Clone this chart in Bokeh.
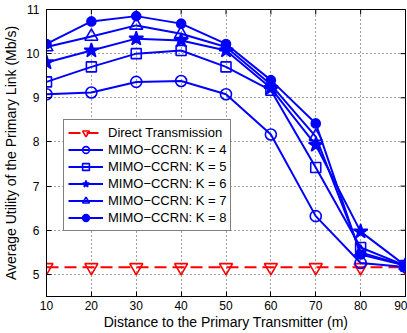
import math
from bokeh.plotting import figure
from bokeh.models import Range1d, Legend, LegendItem, FixedTicker
from bokeh.embed import file_html
from bokeh.resources import INLINE

distance = [10, 20, 30, 40, 50, 60, 70, 80, 90]
direct = [5.16, 5.16, 5.16, 5.16, 5.16, 5.16, 5.16, 5.16, 5.16]
k4 = [9.08, 9.12, 9.36, 9.38, 9.08, 8.17, 6.32, 5.26, 5.17]
k5 = [9.36, 9.70, 10.00, 10.07, 9.70, 9.17, 7.42, 5.61, 5.20]
k6 = [9.80, 10.07, 10.34, 10.30, 10.07, 9.22, 7.93, 5.97, 5.20]
k7 = [10.15, 10.39, 10.64, 10.45, 10.15, 9.30, 8.12, 5.50, 5.20]
k8 = [10.22, 10.73, 10.85, 10.68, 10.22, 9.40, 8.42, 5.45, 5.20]
x_ticks = [10, 20, 30, 40, 50, 60, 70, 80, 90]
y_ticks = [5, 6, 7, 8, 9, 10, 11]
x_min, x_max = 10, 90
y_min, y_max = 4.5, 11

FONT = "Liberation Sans"

p = figure(width=407, height=333, output_backend="svg", toolbar_location=None,
           x_range=Range1d(x_min, x_max), y_range=Range1d(y_min, y_max),
           min_border_left=45, min_border_right=2, min_border_top=9, min_border_bottom=37)
p.background_fill_color = "white"
p.border_fill_color = "white"
p.outline_line_color = "black"
p.outline_line_width = 1

for ax in (p.xaxis[0], p.yaxis[0]):
    ax.major_tick_in = 5
    ax.major_tick_out = 0
    ax.minor_tick_line_color = None
    ax.axis_line_color = "black"
    ax.major_label_text_font = FONT
    ax.major_label_text_font_size = "12px"
    ax.major_label_text_color = "black"
    ax.axis_label_text_font = FONT
    ax.axis_label_text_font_size = "14px"
    ax.axis_label_text_font_style = "normal"
    ax.axis_label_text_color = "black"

p.xaxis[0].ticker = FixedTicker(ticks=x_ticks)
p.yaxis[0].ticker = FixedTicker(ticks=y_ticks)
p.xaxis[0].axis_label = "Distance to the Primary Transmitter (m)"
p.yaxis[0].axis_label = "Average Utility of the Primary Link (Mb/s)"
p.xaxis[0].major_label_standoff = 4
p.xaxis[0].axis_label_standoff = 1
p.yaxis[0].major_label_standoff = 7
p.yaxis[0].axis_label_standoff = 4

p.xgrid.ticker = FixedTicker(ticks=x_ticks)
p.ygrid.ticker = FixedTicker(ticks=y_ticks)
for g in (p.xgrid[0], p.ygrid[0]):
    g.grid_line_color = "#444444"
    g.grid_line_dash = "1 3"
    g.grid_line_width = 1

# inward tick marks on top and right frame edges
p.scatter(x_ticks, [y_max] * len(x_ticks), marker="dash", size=10, angle=math.pi / 2,
          line_color="black", line_width=1)
p.scatter([x_max] * len(y_ticks), y_ticks, marker="dash", size=10,
          line_color="black", line_width=1)

BLUE = "#0000ff"
RED = "#ff0000"
items = []

r_l = p.line(distance, direct, line_color=RED, line_width=2, line_dash="12 6")
r_m = p.scatter(distance, direct, marker="inverted_triangle", size=13, line_color=RED,
                fill_color="white", fill_alpha=0, line_width=1.6)
items.append(LegendItem(label="Direct Transmission", renderers=[r_l, r_m]))

series = [(k4, "circle", 11, False, "MIMO\u2212CCRN: K = 4"),
          (k5, "square", 10, False, "MIMO\u2212CCRN: K = 5"),
          (k6, "star", 15, True, "MIMO\u2212CCRN: K = 6"),
          (k7, "triangle", 13, False, "MIMO\u2212CCRN: K = 7"),
          (k8, "circle", 9, True, "MIMO\u2212CCRN: K = 8")]
for vals, mk, sz, filled, lab in series:
    rl = p.line(distance, vals, line_color=BLUE, line_width=2)
    rm = p.scatter(distance, vals, marker=mk, size=sz, line_color=BLUE, line_width=1.6,
                   fill_color=BLUE if filled else "white", fill_alpha=1 if filled else 0)
    items.append(LegendItem(label=lab, renderers=[rl, rm]))

legend = Legend(items=items, location=(17, 65), label_text_font=FONT,
                label_text_font_size="13px", label_text_color="black",
                border_line_color="black", border_line_width=1.2,
                background_fill_color="white", background_fill_alpha=1,
                glyph_width=35, glyph_height=17, label_height=17, spacing=0,
                padding=4, margin=0, label_standoff=5)
p.add_layout(legend, "center")

open("out.html", "w").write(file_html(p, INLINE))
